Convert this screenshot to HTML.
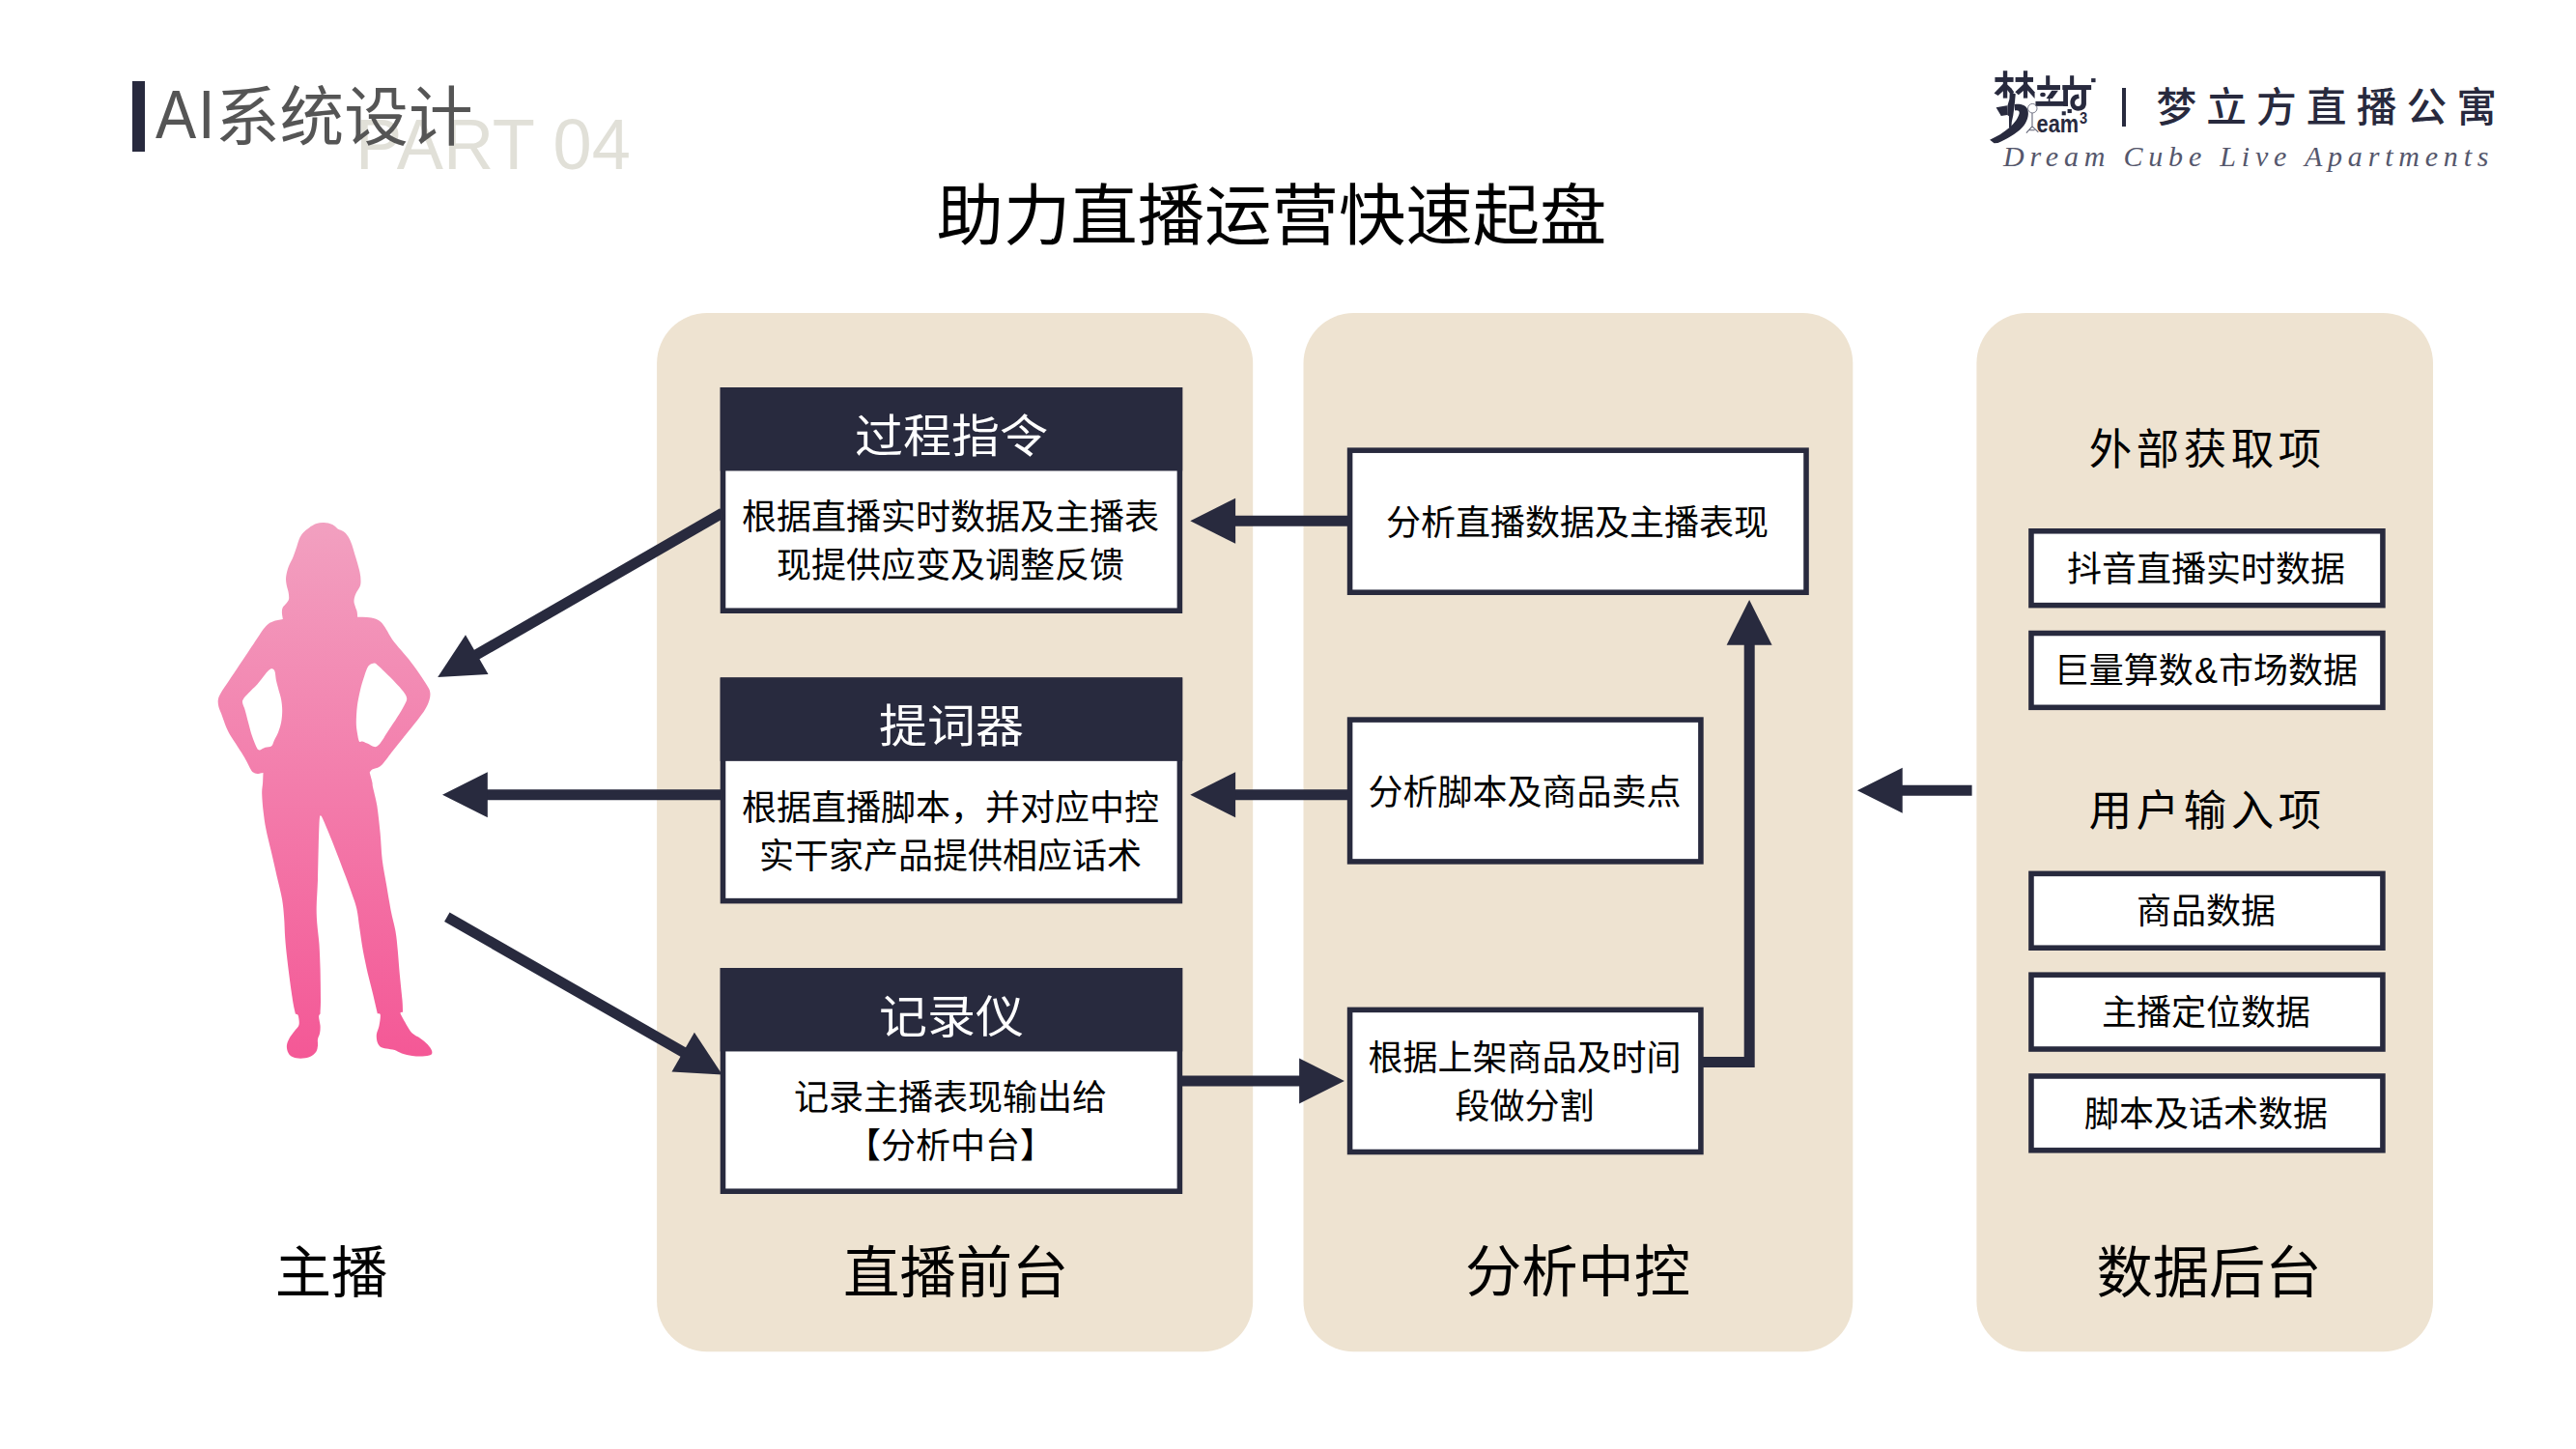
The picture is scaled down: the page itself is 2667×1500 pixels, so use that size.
<!DOCTYPE html>
<html lang="zh-CN">
<head>
<meta charset="utf-8">
<title>AI系统设计 - 助力直播运营快速起盘</title>
<style>
html,body{margin:0;padding:0;background:#fff;}
body{width:2667px;height:1500px;position:relative;overflow:hidden;font-family:"Liberation Sans","Noto Sans CJK SC",sans-serif;color:#000;}
h1{margin:0;font-weight:normal;}
.abs{position:absolute;}
.t{position:absolute;white-space:nowrap;text-align:center;}
.hd{color:#fff;font-size:50px;line-height:70px;transform:scaleY(0.93);transform-origin:50% 50%;}
.body{font-size:36px;line-height:50px;}
.lab{font-size:58.3px;line-height:80px;}
.sub{font-size:44.4px;line-height:60px;letter-spacing:4.6px;}
svg{position:absolute;left:0;top:0;}
</style>
</head>
<body>
<svg width="2667" height="1500" viewBox="0 0 2667 1500" aria-hidden="true">
<defs><linearGradient id="pk" x1="0" y1="0" x2="0" y2="1"><stop offset="0" stop-color="#f2a0c0"/><stop offset="1" stop-color="#f45896"/></linearGradient></defs>
<rect x="680.1" y="324.1" width="617.1" height="1075.2" rx="52" ry="52" fill="#eee3d1"/>
<rect x="1349.5" y="324.1" width="568.8" height="1075.2" rx="52" ry="52" fill="#eee3d1"/>
<rect x="2046.4" y="324.1" width="472.6" height="1075.2" rx="52" ry="52" fill="#eee3d1"/>
<path d="M335.4 541.1C338.1 541.2 341.7 542.0 344.1 543.0C346.5 544.0 347.8 546.2 349.7 547.4C351.6 548.6 353.9 548.9 355.7 550.3C357.5 551.7 359.1 553.4 360.5 555.6C361.9 557.9 363.2 560.8 364.3 563.8C365.4 566.8 366.2 570.3 367.2 573.5C368.2 576.7 369.2 579.9 370.1 583.1C371.0 586.3 372.0 589.8 372.6 592.8C373.2 595.8 373.5 598.6 373.5 601.0C373.5 603.4 373.5 605.0 372.6 607.3C371.7 609.6 369.2 612.6 368.2 615.0C367.2 617.4 366.6 619.7 366.5 621.8C366.4 623.9 367.2 625.7 367.7 627.6C368.2 629.5 369.3 631.5 369.7 633.4C370.1 635.2 370.0 636.9 370.1 638.7C373.5 638.8 377.1 638.8 380.2 639.1C383.2 639.4 386.0 639.7 388.5 640.5C390.9 641.4 392.8 642.4 394.7 644.3C396.6 646.1 398.0 648.6 399.9 651.5C401.8 654.4 403.5 658.2 406.1 661.9C408.7 665.5 412.1 669.3 415.4 673.3C418.7 677.2 422.3 681.2 425.7 685.7C429.2 690.2 433.2 695.9 436.1 700.2C439.0 704.5 441.8 708.6 443.3 711.6C444.9 714.5 445.2 715.5 445.4 717.8C445.6 720.0 445.2 722.3 444.4 725.0C443.5 727.8 442.3 730.9 440.2 734.3C438.2 737.8 435.4 741.3 432.0 745.7C428.5 750.2 423.7 756.1 419.5 761.3C415.4 766.4 410.9 772.0 407.1 776.8C403.3 781.6 399.3 787.3 396.7 790.3C394.2 793.2 393.5 793.4 391.6 794.4C389.7 795.4 386.8 795.6 385.4 796.5C383.9 797.3 383.6 798.6 382.7 799.6C383.6 803.0 384.8 807.4 385.4 809.9C385.9 812.5 385.3 810.9 386.1 815.0C386.9 819.0 389.1 826.4 390.4 834.2C391.6 842.1 392.7 852.8 393.6 862.0C394.5 871.3 394.7 880.9 395.7 889.8C396.8 898.8 398.4 906.2 400.0 915.5C401.6 924.8 403.7 937.3 405.3 945.5C407.0 953.7 408.6 958.3 409.6 964.7C410.7 971.1 411.1 976.5 411.8 984.0C412.5 991.4 413.1 1001.1 413.9 1009.6C414.7 1018.2 415.9 1028.9 416.5 1035.3C417.0 1041.6 416.9 1043.6 417.1 1047.7C416.4 1047.8 415.3 1047.7 415.0 1048.1C414.6 1048.6 414.1 1048.3 415.0 1050.3C415.9 1052.2 418.4 1056.7 420.3 1059.9C422.3 1063.1 424.2 1067.0 426.7 1069.5C429.2 1072.0 432.6 1072.9 435.3 1074.9C438.0 1076.8 440.8 1079.1 442.8 1081.3C444.7 1083.4 446.5 1085.9 447.1 1087.7C447.6 1089.5 447.6 1091.0 446.0 1092.0C444.4 1092.9 440.6 1093.3 437.4 1093.5C434.2 1093.7 430.3 1093.5 426.7 1093.0C423.2 1092.5 419.1 1091.5 416.0 1090.5C413.0 1089.5 411.2 1087.9 408.6 1087.1C405.9 1086.2 402.5 1086.2 400.0 1085.6C397.5 1085.0 395.2 1084.7 393.6 1083.4C392.0 1082.2 391.0 1080.2 390.4 1078.1C389.8 1075.9 389.6 1073.3 389.9 1070.6C390.3 1067.9 391.9 1065.3 392.5 1062.0C393.2 1058.7 394.1 1052.8 393.8 1050.7C393.5 1048.6 391.8 1049.7 390.8 1049.2C389.2 1042.4 387.8 1035.8 386.1 1028.9C384.4 1021.9 382.5 1015.0 380.7 1007.5C379.0 1000.0 377.3 991.8 375.8 984.0C374.4 976.1 373.3 967.6 372.2 960.4C371.1 953.3 370.7 946.9 369.4 941.2C368.2 935.5 366.9 932.6 364.7 926.2C362.5 919.8 359.4 911.2 356.1 902.7C352.9 894.1 348.8 883.4 345.5 874.9C342.1 866.3 338.0 856.4 335.8 851.3C333.7 846.3 333.7 846.8 332.6 844.5C332.0 845.3 331.4 842.0 330.9 847.1C330.4 852.1 330.2 864.2 329.8 874.9C329.5 885.6 329.3 900.5 329.0 911.2C328.6 921.9 327.8 931.6 327.7 939.0C327.6 946.5 327.9 949.7 328.3 956.1C328.8 962.6 329.9 969.7 330.5 977.5C331.0 985.4 331.3 993.6 331.6 1003.2C331.8 1012.8 332.0 1027.6 332.0 1035.3C332.0 1043.0 331.7 1044.6 331.6 1049.2C331.1 1050.3 330.1 1050.3 330.1 1052.4C330.1 1054.5 331.4 1059.2 331.6 1062.0C331.7 1064.9 331.6 1067.2 331.1 1069.5C330.7 1071.8 329.3 1073.8 329.0 1075.9C328.6 1078.1 329.3 1080.2 329.0 1082.4C328.7 1084.5 328.6 1086.8 327.3 1088.8C325.9 1090.7 323.5 1092.9 320.9 1094.1C318.2 1095.3 314.3 1095.8 311.2 1095.8C308.2 1095.8 304.8 1095.1 302.7 1094.1C300.5 1093.1 299.4 1091.8 298.4 1089.8C297.4 1087.9 296.7 1084.8 296.9 1082.4C297.1 1079.9 298.1 1077.4 299.5 1074.9C300.8 1072.4 303.1 1069.7 304.8 1067.4C306.5 1065.1 308.9 1063.6 309.5 1061.0C310.2 1058.3 309.3 1053.2 308.7 1051.3C308.1 1049.5 306.8 1050.3 305.9 1049.8C305.2 1046.4 304.6 1044.8 303.7 1039.6C302.9 1034.3 301.6 1026.0 300.5 1018.2C299.5 1010.3 298.2 1000.4 297.3 992.5C296.4 984.7 295.7 978.3 295.2 971.1C294.7 964.0 294.7 956.5 294.1 949.7C293.6 943.0 293.2 937.6 292.0 930.5C290.7 923.4 288.6 915.5 286.6 907.0C284.7 898.4 282.1 887.3 280.2 879.1C278.3 870.9 276.5 864.2 275.3 857.8C274.0 851.3 273.4 846.7 272.7 840.6C272.0 834.6 271.3 826.5 271.2 821.4C271.1 816.3 271.9 813.5 272.1 809.9C272.3 806.4 272.3 803.3 272.5 800.0C270.4 800.3 268.0 801.1 266.3 801.0C264.5 801.0 263.3 800.5 262.1 799.6C260.9 798.7 260.1 797.2 259.0 795.4C258.0 793.7 257.1 791.5 255.9 789.2C254.7 787.0 253.7 785.1 251.8 782.0C249.9 778.9 246.9 774.4 244.5 770.6C242.1 766.8 239.2 762.7 237.3 759.2C235.4 755.7 234.5 753.3 233.1 749.9C231.8 746.4 230.1 741.6 229.0 738.5C227.9 735.4 226.8 733.7 226.3 731.2C225.8 728.8 225.4 726.4 225.9 724.0C226.3 721.6 227.1 720.0 229.0 716.7C230.9 713.5 234.2 709.0 237.3 704.3C240.4 699.7 244.2 694.0 247.6 688.8C251.1 683.6 254.9 677.9 258.0 673.3C261.1 668.6 263.9 664.5 266.3 660.8C268.7 657.2 270.6 654.0 272.5 651.5C274.4 649.0 275.6 647.4 277.7 645.9C279.7 644.4 282.4 643.4 284.9 642.6C287.5 641.8 290.2 641.6 292.9 641.1C292.7 640.1 292.6 639.5 292.4 638.2C292.2 636.9 291.8 635.0 291.9 633.4C292.0 631.8 292.1 630.1 292.9 628.6C293.7 627.1 295.7 625.7 296.7 624.2C297.7 622.8 298.8 621.8 299.1 619.9C299.4 618.0 299.0 615.7 298.6 613.1C298.2 610.5 296.9 607.1 296.5 604.4C296.1 601.7 295.8 599.6 296.2 596.7C296.6 593.8 297.4 590.4 298.6 587.0C299.8 583.6 302.1 579.9 303.5 576.4C304.9 572.9 306.2 568.9 307.3 565.7C308.4 562.5 309.1 559.5 310.2 557.1C311.3 554.7 312.5 553.1 314.1 551.3C315.7 549.5 317.6 547.9 319.9 546.4C322.1 544.9 325.0 543.0 327.6 542.1C330.2 541.2 332.6 541.0 335.4 541.1ZM386.4 686.7C387.9 686.4 388.5 686.6 390.5 688.2C392.6 689.7 395.7 693.0 398.8 696.0C401.9 699.1 406.1 703.1 409.2 706.4C412.3 709.7 415.5 712.9 417.5 715.7C419.5 718.5 421.0 720.5 421.2 723.0C421.4 725.4 420.1 726.9 418.5 730.2C416.8 733.5 413.8 738.5 411.2 742.6C408.7 746.8 405.5 751.1 403.0 755.1C400.4 759.0 397.6 763.7 395.7 766.4C393.8 769.2 392.9 770.5 391.6 771.6C390.2 772.7 389.3 773.4 387.4 773.1C385.5 772.7 382.2 770.5 380.2 769.6C378.1 768.6 376.4 767.8 375.0 767.5C373.6 767.1 372.8 769.0 371.9 767.5C371.0 765.9 370.3 761.4 369.8 758.2C369.3 754.9 368.8 752.3 368.8 747.8C368.8 743.3 369.1 736.8 369.8 731.2C370.5 725.7 371.7 719.9 372.9 714.7C374.1 709.5 375.7 704.3 377.1 700.2C378.5 696.0 379.7 692.1 381.2 689.8C382.8 687.6 384.8 687.0 386.4 686.7ZM281.8 692.3C282.8 692.5 283.8 693.0 284.5 695.0C285.2 697.0 285.3 701.0 285.9 704.3C286.6 707.6 287.8 711.4 288.6 714.7C289.5 718.0 290.5 720.5 291.1 724.0C291.7 727.4 292.2 731.4 292.2 735.4C292.2 739.4 291.8 744.0 291.1 747.8C290.4 751.6 289.2 755.1 288.0 758.2C286.8 761.3 285.0 764.1 283.9 766.4C282.7 768.8 282.7 771.0 281.2 772.2C279.6 773.5 276.7 773.0 274.6 773.7C272.4 774.4 269.9 776.6 268.3 776.4C266.8 776.2 266.4 775.0 265.2 772.7C264.0 770.3 262.5 766.4 261.1 762.3C259.7 758.2 258.2 752.3 257.0 747.8C255.7 743.3 254.8 738.7 253.8 735.4C252.9 732.1 251.5 730.0 251.2 728.1C250.8 726.2 250.8 725.7 251.8 724.0C252.7 722.3 254.5 720.4 257.0 717.8C259.4 715.2 263.3 711.7 266.3 708.5C269.2 705.2 272.5 700.6 274.6 698.1C276.6 695.6 277.5 694.5 278.7 693.6C279.9 692.6 280.8 692.1 281.8 692.3Z" fill="url(#pk)" fill-rule="evenodd"/>
<rect x="748.48" y="403.78" width="472.94" height="228.44" fill="#fff" stroke="#282a3e" stroke-width="5.56"/>
<rect x="745.70" y="401.00" width="478.50" height="86.45" fill="#282a3e"/>
<rect x="748.48" y="704.18" width="472.94" height="228.44" fill="#fff" stroke="#282a3e" stroke-width="5.56"/>
<rect x="745.70" y="701.40" width="478.50" height="86.45" fill="#282a3e"/>
<rect x="748.48" y="1004.78" width="472.94" height="228.44" fill="#fff" stroke="#282a3e" stroke-width="5.56"/>
<rect x="745.70" y="1002.00" width="478.50" height="86.45" fill="#282a3e"/>
<rect x="1397.58" y="466.18" width="472.44" height="147.04" fill="#fff" stroke="#282a3e" stroke-width="5.56"/>
<rect x="1397.58" y="745.08" width="363.34" height="146.84" fill="#fff" stroke="#282a3e" stroke-width="5.56"/>
<rect x="1397.58" y="1045.38" width="363.34" height="147.14" fill="#fff" stroke="#282a3e" stroke-width="5.56"/>
<rect x="2102.98" y="549.78" width="363.94" height="76.84" fill="#fff" stroke="#282a3e" stroke-width="5.56"/>
<rect x="2102.98" y="655.48" width="363.94" height="76.84" fill="#fff" stroke="#282a3e" stroke-width="5.56"/>
<rect x="2102.98" y="904.38" width="363.94" height="76.84" fill="#fff" stroke="#282a3e" stroke-width="5.56"/>
<rect x="2102.98" y="1009.18" width="363.94" height="76.84" fill="#fff" stroke="#282a3e" stroke-width="5.56"/>
<rect x="2102.98" y="1113.98" width="363.94" height="76.84" fill="#fff" stroke="#282a3e" stroke-width="5.56"/>
<line x1="748.0" y1="531.0" x2="492.0" y2="678.5" stroke="#282a3e" stroke-width="11.0"/><polygon points="453.2,700.9 482.0,657.2 505.5,697.9" fill="#282a3e"/>
<line x1="748.0" y1="822.8" x2="502.8" y2="822.8" stroke="#282a3e" stroke-width="11.0"/><polygon points="458.0,822.8 504.8,799.3 504.8,846.3" fill="#282a3e"/>
<line x1="462.8" y1="949.2" x2="708.9" y2="1090.1" stroke="#282a3e" stroke-width="11.0"/><polygon points="747.8,1112.4 695.5,1109.5 718.9,1068.8" fill="#282a3e"/>
<line x1="1396.0" y1="539.3" x2="1277.1" y2="539.3" stroke="#282a3e" stroke-width="11.0"/><polygon points="1232.3,539.3 1279.1,515.8 1279.1,562.8" fill="#282a3e"/>
<line x1="1396.0" y1="822.8" x2="1277.1" y2="822.8" stroke="#282a3e" stroke-width="11.0"/><polygon points="1232.3,822.8 1279.1,799.3 1279.1,846.3" fill="#282a3e"/>
<line x1="1222.0" y1="1118.9" x2="1347.1" y2="1118.9" stroke="#282a3e" stroke-width="11.0"/><polygon points="1391.9,1118.9 1345.1,1142.4 1345.1,1095.4" fill="#282a3e"/>
<line x1="2041.6" y1="818.3" x2="1967.7" y2="818.3" stroke="#282a3e" stroke-width="11.0"/><polygon points="1922.9,818.3 1969.7,794.8 1969.7,841.8" fill="#282a3e"/>
<polyline points="1762,1099.5 1811.2,1099.5 1811.2,660" fill="none" stroke="#282a3e" stroke-width="11.0" stroke-linejoin="miter"/>
<polygon points="1811.1,620.9 1834.6,667.7 1787.6,667.7" fill="#282a3e"/>
<g transform="translate(2055 68) scale(0.05797)" fill="#282a3e" stroke="none">
<rect x="325" y="90" width="76" height="490"/>
<rect x="180" y="206" width="330" height="86"/>
<polygon points="330,320 405,385 235,535 165,490"/>
<polygon points="395,330 470,400 520,470 470,520 395,430"/>
<rect x="688" y="90" width="74" height="490"/>
<rect x="545" y="206" width="318" height="86"/>
<polygon points="700,320 765,385 600,520 540,470"/>
<polygon points="755,320 890,470 890,585 740,420"/>
<path d="M445 468 L548 505 L530 700 L505 890 L480 1000 L472 1110 L432 1110 L430 900 L400 880 L402 720 L438 600 Z"/>
<polygon points="200,745 395,712 400,880 290,895"/>
<path d="M530 692 C620 676 730 698 765 785 C795 885 755 1005 670 1100 C550 1228 390 1305 232 1382 L165 1386 L88 1322 C215 1268 330 1200 440 1105 C530 1025 600 930 615 850 C620 805 595 790 535 800 Z"/>
<rect x="1090" y="176" width="70" height="175"/>
<rect x="935" y="346" width="410" height="86"/>
<ellipse cx="1035" cy="518" rx="48" ry="38"/>
<polygon points="1195,445 1310,445 1205,585 1095,585"/>
<rect x="1135" y="580" width="28" height="60"/>
<rect x="905" y="636" width="578" height="86"/>
<rect x="1520" y="176" width="70" height="175"/>
<rect x="1385" y="346" width="515" height="86"/>
<rect x="1400" y="430" width="83" height="292"/>
<path d="M1722 430 L1810 430 L1810 690 C1800 770 1740 805 1665 805 C1580 805 1525 740 1525 655 C1525 570 1590 510 1675 510 L1685 585 C1640 585 1605 615 1605 660 C1605 700 1630 725 1665 725 C1705 725 1722 700 1722 660 Z"/>
<rect x="1900" y="226" width="76" height="70"/>
<rect x="1375" y="815" width="70" height="70"/>
<rect x="1476" y="776" width="74" height="70"/>
<g fill="none" stroke="#5d5f73" stroke-width="14">
<circle cx="850" cy="762" r="82"/>
<path d="M845 845 L845 1085 M845 1085 L740 1200 M845 1085 L955 1190 M800 1150 L890 1150" stroke-width="18"/>
</g>
<text x="925" y="1185" font-family="'Liberation Sans',sans-serif" font-size="440" font-weight="bold" textLength="750" lengthAdjust="spacingAndGlyphs">eam</text>
<text x="1690" y="1040" font-family="'Liberation Sans',sans-serif" font-size="295" font-weight="bold" textLength="140" lengthAdjust="spacingAndGlyphs">3</text>
</g>

</svg>
<header>
<div class="abs" style="left:137px;top:84px;width:13px;height:72.5px;background:#282a3e"></div>
<div class="t" style="left:368.4px;top:106.9px;font-size:74.6px;line-height:84px;color:#e1e0d8;text-align:left;transform:scaleX(0.9675);transform-origin:0 0;">PART 04</div>
<div class="t" style="left:161.3px;top:78.8px;font-size:66.7px;line-height:84px;color:#555;text-align:left;"><span style="display:inline-block;font-size:69.5px;line-height:84px;letter-spacing:2px;transform:scaleX(0.91);transform-origin:0 100%;margin-right:-8.1px;position:relative;top:-1.8px;">AI</span>系统设计</div>
<h1 class="t" style="left:900px;width:833px;top:174px;font-size:69.4px;line-height:100px;">助力直播运营快速起盘</h1>
<div class="abs" style="left:2197px;top:90.5px;width:4.2px;height:40px;background:#282a3e"></div>
<div class="t" style="left:2232.5px;top:82.5px;font-size:41.7px;line-height:58px;letter-spacing:10.1px;color:#282a3e;text-align:left;font-weight:500;">梦立方直播公寓</div>
<div class="t" style="left:2074px;top:144px;font-size:30px;line-height:36px;letter-spacing:5.8px;color:#55576c;text-align:left;font-family:'Liberation Serif',serif;font-style:italic;">Dream Cube Live Apartments</div>
</header>
<main>
<div class="t hd" style="left:635.0px;width:700px;top:416.7px;">过程指令</div>
<div class="t body" style="left:634.0px;width:700px;top:511.4px;">根据直播实时数据及主播表<br>现提供应变及调整反馈</div>
<div class="t hd" style="left:635.0px;width:700px;top:717.1px;">提词器</div>
<div class="t body" style="left:634.0px;width:700px;top:811.8px;">根据直播脚本，并对应中控<br>实干家产品提供相应话术</div>
<div class="t hd" style="left:635.0px;width:700px;top:1017.7px;">记录仪</div>
<div class="t body" style="left:634.0px;width:700px;top:1111.8px;">记录主播表现输出给<br>【分析中台】</div>
<div class="t body" style="left:1283.0px;width:700px;top:517.2px;">分析直播数据及主播表现</div>
<div class="t body" style="left:1228.5px;width:700px;top:796.0px;">分析脚本及商品卖点</div>
<div class="t body" style="left:1228.5px;width:700px;top:1071.4px;">根据上架商品及时间<br>段做分割</div>
<div class="t body" style="left:1933.9px;width:700px;top:564.7px;">抖音直播实时数据</div>
<div class="t body" style="left:1933.9px;width:700px;top:670.4px;">巨量算数<span style="margin:0 1px">&amp;</span>市场数据</div>
<div class="t body" style="left:1933.9px;width:700px;top:919.3px;">商品数据</div>
<div class="t body" style="left:1933.9px;width:700px;top:1024.1px;">主播定位数据</div>
<div class="t body" style="left:1933.9px;width:700px;top:1128.9px;">脚本及话术数据</div>
<div class="t sub" style="left:1935.2px;width:700px;top:436.2px;">外部获取项</div>
<div class="t sub" style="left:1935.2px;width:700px;top:810.2px;">用户输入项</div>
<div class="t lab" style="left:-7.0px;width:700px;top:1277.5px;">主播</div>
<div class="t lab" style="left:639.7px;width:700px;top:1277.5px;">直播前台</div>
<div class="t lab" style="left:1283.5px;width:700px;top:1277.2px;">分析中控</div>
<div class="t lab" style="left:1937.0px;width:700px;top:1277.5px;">数据后台</div>
</main>
</body>
</html>
